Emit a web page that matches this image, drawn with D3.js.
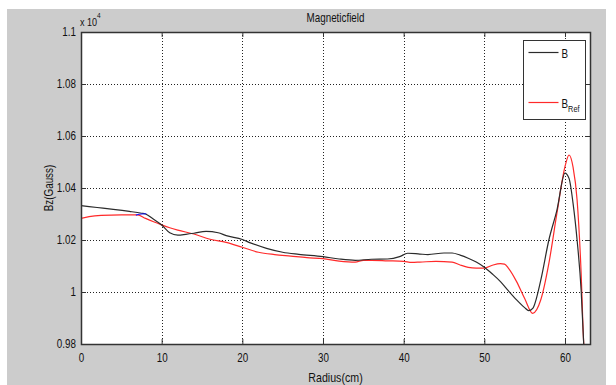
<!DOCTYPE html>
<html>
<head>
<meta charset="utf-8">
<script src="https://cdn.jsdelivr.net/npm/d3@7"></script>
<style>
  body { margin: 0; background: #ffffff; }
  svg text { font-family: "Liberation Sans", Arial, sans-serif; fill: #111; }
</style>
</head>
<body>
<div id="chart"></div>
<script>
// ─── DATA ───────────────────────────────────────────────
// B (x 10^4 Gauss) along radius
const radiusB = [0, 2, 4, 6, 7.5, 8, 9, 10, 11, 12, 13, 14, 15.5, 17, 18, 20, 21, 23, 25, 27, 30, 32, 34, 36, 38, 39.5, 40.5, 42, 43, 45, 46, 47, 48, 49, 50, 51, 52, 53, 54, 55, 55.5, 56, 57, 58, 59, 60, 60.5, 61, 61.5, 62, 62.4]
const valuesB = [1.0332, 1.0325, 1.0318, 1.0310, 1.0303, 1.0300, 1.0280, 1.0258, 1.0228, 1.0219, 1.0222, 1.0226, 1.0233, 1.0228, 1.0217, 1.0202, 1.0189, 1.0168, 1.0153, 1.0145, 1.0136, 1.0127, 1.0122, 1.0126, 1.0127, 1.0136, 1.0149, 1.0146, 1.0144, 1.0150, 1.0150, 1.0142, 1.0130, 1.0115, 1.0095, 1.0069, 1.0040, 1.0004, 0.9970, 0.9940, 0.9928, 0.9937, 1.0046, 1.0200, 1.0315, 1.0457, 1.0437, 1.0341, 1.0200, 1.0008, 0.9750]

// B_Ref
const radiusRef = [0, 1, 2.5, 5, 7, 8, 9, 10, 11, 12, 14, 16, 18, 20, 22, 24, 26, 28, 30, 32, 34, 35, 36, 38, 40, 41, 42, 44, 46, 47, 48, 49, 50, 51, 52, 52.5, 53, 54, 55, 56, 57, 58, 59, 60, 60.5, 61, 61.5, 62, 62.3, 62.6]
const valuesRef = [1.0283, 1.0290, 1.0295, 1.0297, 1.0297, 1.0283, 1.0270, 1.0258, 1.0247, 1.0238, 1.0223, 1.0203, 1.0191, 1.0172, 1.0153, 1.0144, 1.0138, 1.0132, 1.0128, 1.0119, 1.0115, 1.0122, 1.0122, 1.0120, 1.0118, 1.0114, 1.0115, 1.0118, 1.0115, 1.0104, 1.0095, 1.0092, 1.0092, 1.0103, 1.0109, 1.0107, 1.0091, 1.0040, 0.9975, 0.9918, 0.9970, 1.0110, 1.0303, 1.0482, 1.0527, 1.0480, 1.0354, 1.0073, 0.9815, 0.9700]

// small blue piece near r = 7..8
const radiusBlue = [6.8, 7.5, 8.1]
const valuesBlue = [1.0296, 1.0300, 1.0301]

const xTicks = [0, 10, 20, 30, 40, 50, 60]
const yTicks = [0.98, 1, 1.02, 1.04, 1.06, 1.08, 1.1]
const yTickLabels = ['0.98', '1', '1.02', '1.04', '1.06', '1.08', '1.1']

// ─── LAYOUT ─────────────────────────────────────────────
const W = 616, H = 385
const PLOT = { LEFT: 81, TOP: 32, RIGHT: 590, BOTTOM: 344 }
const NARROW = 0.82 // the original font is a condensed one

const svg = d3.select('#chart').append('svg')
  .attr('width', W)
  .attr('height', H)

// squeeze a text horizontally around its anchor point
function condense(sel) {
  sel.each(function () {
    const t = d3.select(this)
    const tx = +t.attr('x') || 0, ty = +t.attr('y') || 0
    t.attr('x', 0).attr('y', 0)
      .attr('transform', `translate(${tx},${ty}) scale(${NARROW},1)`)
  })
}

// gray figure background
svg.append('rect')
  .attr('x', 7).attr('y', 9)
  .attr('width', 599).attr('height', H - 9)
  .attr('fill', '#cccccc')

const x = d3.scaleLinear().domain([0, 63.1]).range([PLOT.LEFT, PLOT.RIGHT])
const y = d3.scaleLinear().domain([0.98, 1.1]).range([PLOT.BOTTOM, PLOT.TOP])

svg.append('rect')
  .attr('x', PLOT.LEFT).attr('y', PLOT.TOP)
  .attr('width', PLOT.RIGHT - PLOT.LEFT).attr('height', PLOT.BOTTOM - PLOT.TOP)
  .attr('fill', '#ffffff')

svg.append('clipPath').attr('id', 'clip')
  .append('rect')
  .attr('x', PLOT.LEFT).attr('y', PLOT.TOP)
  .attr('width', PLOT.RIGHT - PLOT.LEFT).attr('height', PLOT.BOTTOM - PLOT.TOP)

// ─── GRID ───────────────────────────────────────────────
const grid = svg.append('g')
grid.selectAll('.vgrid').data(xTicks.filter(d => d > 0))
  .enter().append('line')
  .attr('x1', d => Math.round(x(d)) + 0.5).attr('x2', d => Math.round(x(d)) + 0.5)
  .attr('y1', PLOT.TOP).attr('y2', PLOT.BOTTOM)
  .attr('stroke', '#222').attr('stroke-width', 1).attr('stroke-dasharray', '1,2')
grid.selectAll('.hgrid').data(yTicks.filter(d => d > 0.98 && d < 1.1))
  .enter().append('line')
  .attr('y1', d => Math.round(y(d)) + 0.5).attr('y2', d => Math.round(y(d)) + 0.5)
  .attr('x1', PLOT.LEFT).attr('x2', PLOT.RIGHT)
  .attr('stroke', '#222').attr('stroke-width', 1).attr('stroke-dasharray', '1,2')

// ─── AXES (ticks inside, box on all sides) ─────────────
const xAxisB = d3.axisBottom(x).tickValues(xTicks).tickSize(-5).tickPadding(9).tickFormat(d3.format('d'))
const xAxisT = d3.axisTop(x).tickValues(xTicks).tickSize(-5).tickFormat('')
const yAxisL = d3.axisLeft(y).tickValues(yTicks).tickSize(-5).tickPadding(5).tickFormat((d, i) => yTickLabels[i])
const yAxisR = d3.axisRight(y).tickValues(yTicks).tickSize(-5).tickFormat('')

function styleAxis(g) {
  g.select('.domain').remove()
  g.selectAll('line').attr('stroke', '#333')
  g.selectAll('text').attr('font-size', 12).attr('fill', '#111').call(condense)
}

svg.append('g').attr('transform', `translate(0, ${PLOT.BOTTOM})`).call(xAxisB).call(styleAxis)
svg.append('g').attr('transform', `translate(0, ${PLOT.TOP})`).call(xAxisT).call(styleAxis)
svg.append('g').attr('transform', `translate(${PLOT.LEFT}, 0)`).call(yAxisL).call(styleAxis)
svg.append('g').attr('transform', `translate(${PLOT.RIGHT}, 0)`).call(yAxisR).call(styleAxis)

// ─── LINES ──────────────────────────────────────────────
const line = d3.line()
  .x(d => x(d[0]))
  .y(d => y(d[1]))
  .curve(d3.curveMonotoneX)

const lines = svg.append('g').attr('clip-path', 'url(#clip)')
lines.append('path')
  .datum(d3.zip(radiusRef, valuesRef))
  .attr('d', line)
  .attr('fill', 'none').attr('stroke', '#ff2a2a').attr('stroke-width', 1.2)
lines.append('path')
  .datum(d3.zip(radiusB, valuesB))
  .attr('d', line)
  .attr('fill', 'none').attr('stroke', '#2b2b2b').attr('stroke-width', 1.2)
lines.append('path')
  .datum(d3.zip(radiusBlue, valuesBlue))
  .attr('d', line)
  .attr('fill', 'none').attr('stroke', '#1a1aff').attr('stroke-width', 1.2)

// box
svg.append('rect')
  .attr('x', PLOT.LEFT + 0.5).attr('y', PLOT.TOP + 0.5)
  .attr('width', PLOT.RIGHT - PLOT.LEFT).attr('height', PLOT.BOTTOM - PLOT.TOP)
  .attr('fill', 'none').attr('stroke', '#333').attr('stroke-width', 1.5)

// ─── LABELS ─────────────────────────────────────────────
svg.append('text')
  .attr('x', (PLOT.LEFT + PLOT.RIGHT) / 2).attr('y', 22)
  .attr('text-anchor', 'middle').attr('font-size', 12)
  .text('Magneticfield')
  .call(condense)

svg.append('text')
  .attr('x', (PLOT.LEFT + PLOT.RIGHT) / 2).attr('y', 382)
  .attr('text-anchor', 'middle').attr('font-size', 13)
  .text('Radius(cm)')
  .call(condense)

svg.append('text')
  .attr('transform', `translate(53, ${(PLOT.TOP + PLOT.BOTTOM) / 2}) rotate(-90) scale(${NARROW},1)`)
  .attr('text-anchor', 'middle').attr('font-size', 12)
  .text('Bz(Gauss)')

// exponent "x 10^4"
const expo = svg.append('text').attr('x', 80).attr('y', 26).attr('font-size', 11)
expo.append('tspan').text('x 10')
expo.append('tspan').attr('dy', -8).attr('font-size', 8).text('4')
expo.call(condense)

// ─── LEGEND ─────────────────────────────────────────────
const legend = svg.append('g').attr('transform', 'translate(523.5, 40.5)')
legend.append('rect')
  .attr('width', 62).attr('height', 79)
  .attr('fill', '#ffffff').attr('stroke', '#333').attr('stroke-width', 1)
legend.append('line')
  .attr('x1', 5).attr('x2', 35).attr('y1', 12).attr('y2', 12)
  .attr('stroke', '#2b2b2b').attr('stroke-width', 1.2)
legend.append('text').attr('x', 38).attr('y', 17).attr('font-size', 12).text('B').call(condense)
legend.append('line')
  .attr('x1', 5).attr('x2', 35).attr('y1', 62).attr('y2', 62)
  .attr('stroke', '#ff2a2a').attr('stroke-width', 1.2)
const refLabel = legend.append('text').attr('x', 38).attr('y', 67).attr('font-size', 12)
refLabel.append('tspan').text('B')
refLabel.append('tspan').attr('dy', 4).attr('font-size', 9).text('Ref')
refLabel.call(condense)
</script>
</body>
</html>
